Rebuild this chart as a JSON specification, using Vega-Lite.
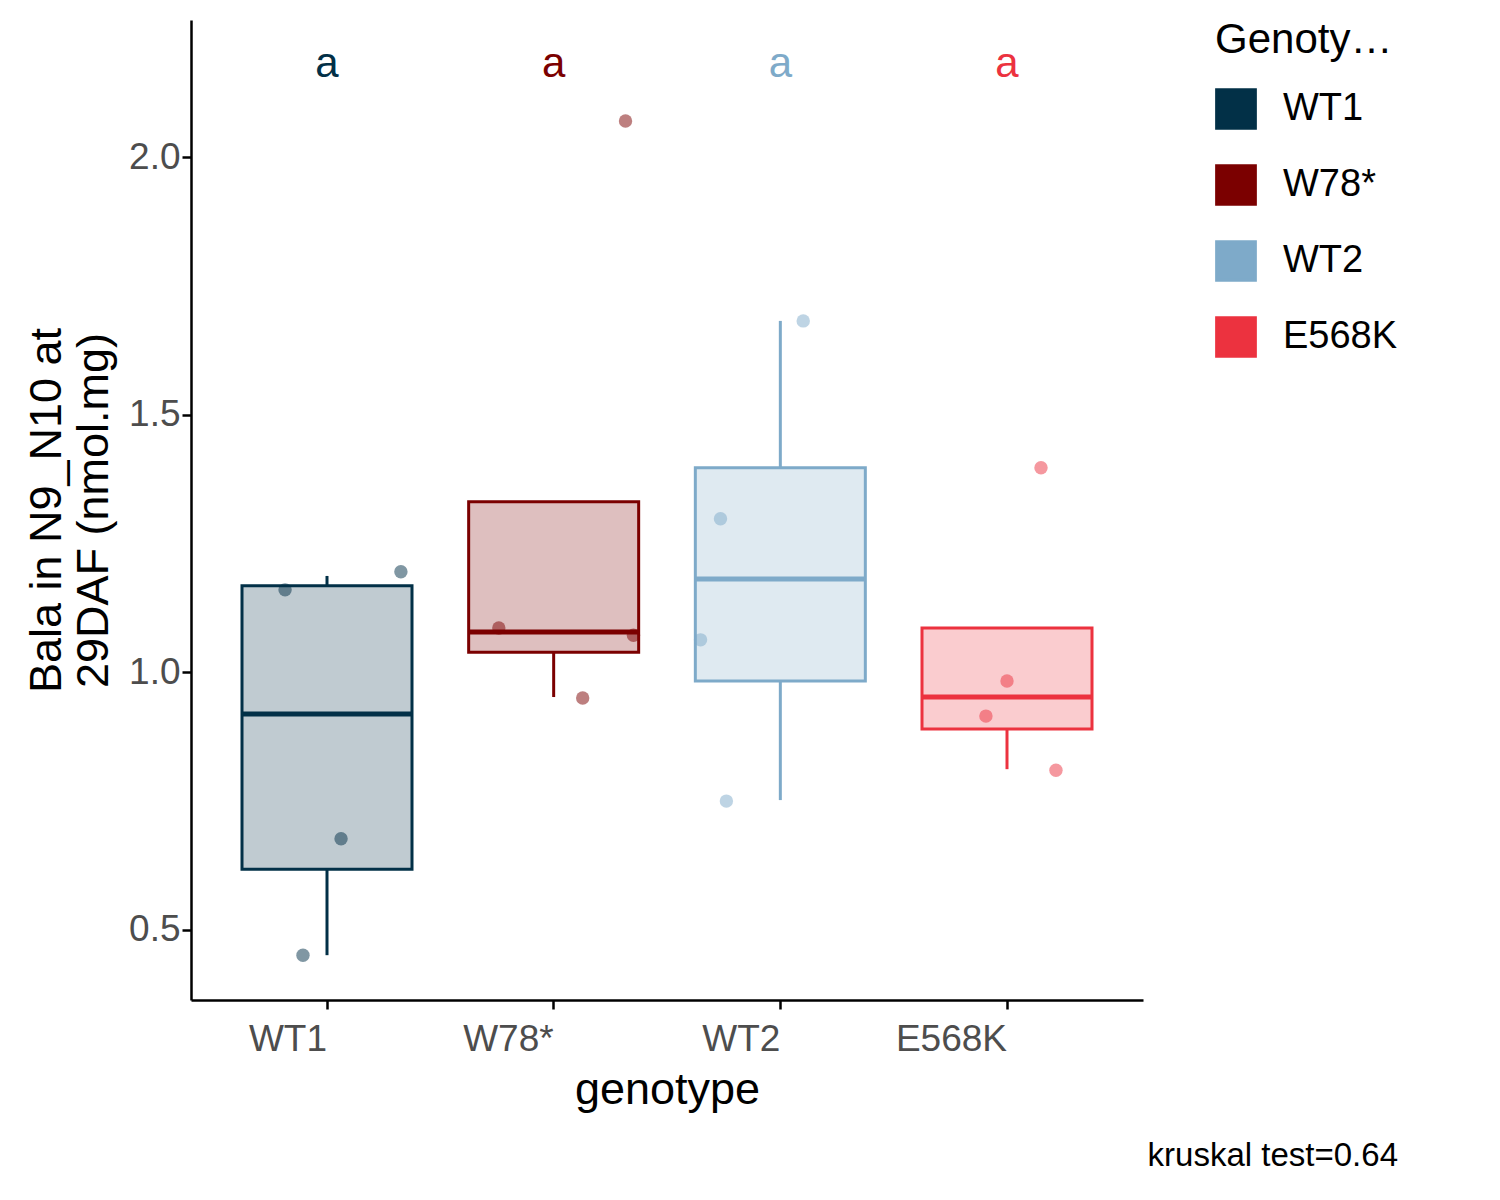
{
"$schema":"https://vega.github.io/schema/vega-lite/v6.json",
"width":952,"height":980,
"padding":{"left":24,"top":20,"right":10,"bottom":18},
"background":"white",
"config":{"view":{"stroke":null},"font":"Liberation Sans",
"axis":{"grid":false,"domainColor":"black","domainWidth":2.5,"tickColor":"black","tickWidth":2.5,"tickSize":9,"labelFontSize":37,"labelColor":"#4d4d4d","titleFontSize":45,"titleFontWeight":"normal","titleColor":"black"}},
"title":{"text":"kruskal test=0.64","orient":"bottom","anchor":"end","fontSize":33,"fontWeight":"normal","offset":28},
"datasets":{
"box":[
{"g":"WT1","lo":0.451,"q1":0.618,"med":0.919,"q3":1.168,"hi":1.187,"ly":2.18,"lab":"a"},
{"g":"W78*","lo":0.952,"q1":1.039,"med":1.078,"q3":1.331,"hi":1.331,"ly":2.18,"lab":"a"},
{"g":"WT2","lo":0.752,"q1":0.983,"med":1.181,"q3":1.397,"hi":1.682,"ly":2.18,"lab":"a"},
{"g":"E568K","lo":0.812,"q1":0.890,"med":0.952,"q3":1.086,"hi":1.086,"ly":2.18,"lab":"a"}],
"pts":[
{"g":"WT1","v":1.160,"j":-0.185},{"g":"WT1","v":0.677,"j":0.062},{"g":"WT1","v":0.451,"j":-0.106},{"g":"WT1","v":1.195,"j":0.326},
{"g":"W78*","v":2.070,"j":0.317},{"g":"W78*","v":1.086,"j":-0.242},{"g":"W78*","v":1.072,"j":0.352},{"g":"W78*","v":0.950,"j":0.128},
{"g":"WT2","v":1.682,"j":0.101},{"g":"WT2","v":1.298,"j":-0.264},{"g":"WT2","v":1.063,"j":-0.352},{"g":"WT2","v":0.750,"j":-0.238},
{"g":"E568K","v":1.397,"j":0.150},{"g":"E568K","v":0.983,"j":0.0},{"g":"E568K","v":0.915,"j":-0.093},{"g":"E568K","v":0.810,"j":0.216}]},
"encoding":{
"x":{"field":"g","type":"nominal","sort":["WT1","W78*","WT2","E568K"],"scale":{"paddingInner":0,"paddingOuter":0.1},"axis":{"title":"genotype","labelAngle":0,"labelAlign":"right","labelPadding":12,"titlePadding":10}},
"color":{"field":"g","type":"nominal","sort":["WT1","W78*","WT2","E568K"],"scale":{"domain":["WT1","W78*","WT2","E568K"],"range":["#023047","#7b0000","#7eaac9","#ec323f"]},"legend":{"title":"Genotype","titleFontSize":42,"titleFontWeight":"normal","titleColor":"black","labelFontSize":38,"labelColor":"black","symbolType":"square","symbolSize":1500,"symbolStrokeWidth":3,"symbolOpacity":1,"symbolFillColor":null,"rowPadding":24,"titlePadding":26,"labelOffset":26,"offset":72,"orient":"right"}}
},
"layer":[
{"data":{"name":"box"},"mark":{"type":"rule","strokeWidth":3},"encoding":{"y":{"field":"lo","type":"quantitative","scale":{"domain":[0.364,2.266],"nice":false,"zero":false},"axis":{"values":[0.5,1.0,1.5,2.0],"format":".1f","title":["Bala in N9_N10 at","29DAF (nmol.mg)"],"titlePadding":12}},"y2":{"field":"q1"}}},
{"data":{"name":"box"},"mark":{"type":"rule","strokeWidth":3},"encoding":{"y":{"field":"q3","type":"quantitative"},"y2":{"field":"hi"}}},
{"data":{"name":"box"},"mark":{"type":"bar","width":170,"fillOpacity":0.25,"strokeWidth":3},"encoding":{"y":{"field":"q1","type":"quantitative"},"y2":{"field":"q3"},"stroke":{"field":"g","type":"nominal","sort":["WT1","W78*","WT2","E568K"],"scale":{"domain":["WT1","W78*","WT2","E568K"],"range":["#023047","#7b0000","#7eaac9","#ec323f"]},"legend":null}}},
{"data":{"name":"box"},"mark":{"type":"tick","size":170,"thickness":5,"opacity":1},"encoding":{"y":{"field":"med","type":"quantitative"}}},
{"data":{"name":"pts"},"mark":{"type":"circle","size":180,"opacity":0.5},"encoding":{"y":{"field":"v","type":"quantitative"},"xOffset":{"field":"j","type":"quantitative","scale":{"domain":[-0.5,0.5]}}}},
{"data":{"name":"box"},"mark":{"type":"text","fontSize":42,"baseline":"middle"},"encoding":{"y":{"field":"ly","type":"quantitative"},"text":{"field":"lab"}}}
]
}
